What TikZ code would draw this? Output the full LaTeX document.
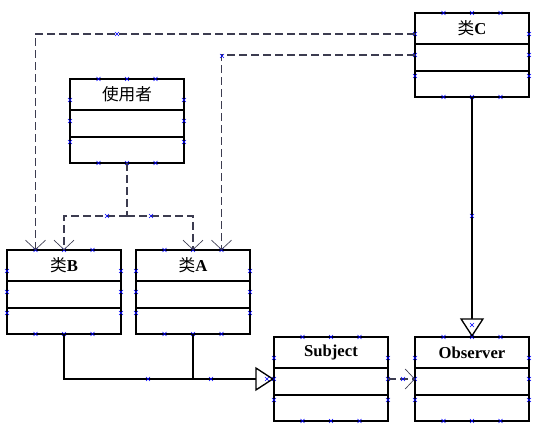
\documentclass[tikz,border=0pt]{standalone}
\usepackage{fontspec}
\setmainfont{Liberation Serif}
\newfontfamily\cjk{Noto Sans CJK SC}
\usetikzlibrary{arrows.meta,calc}

\definecolor{depgray}{RGB}{60,60,80}
\tikzset{
  classbox/.style={draw, line width=1.3pt, minimum width=85.5pt, minimum height=63pt, inner sep=0pt, outer sep=0pt},
  classname/.style={font=\fontsize{12.5}{14}\selectfont\bfseries, inner sep=0pt},
  dep/.style={depgray, dash pattern=on 6pt off 3pt, line width=1.25pt, -{Straight Barb[length=7pt,width=15pt,line width=0.5pt]}},
  gen/.style={line width=0.8pt, -{Triangle[open,length=14pt,width=18pt,line width=1pt,fill=white]}},
  handle/.style={blue, line width=0.5pt},
}

% kleines Auswahlkreuz
\newcommand{\hmark}[1]{\draw[handle] #1 +(-2,-2) -- +(2,2) +(-2,2) -- +(2,-2);}

% Klasse mit drei Feldern: Name, Ecke oben links, Titel
\newcommand{\umlclass}[3]{%
  \node[classbox, anchor=north west] (#1) at (#2) {};
  \draw[line width=1.3pt] ($(#1.north west)+(0,31)$) -- ($(#1.north east)+(0,31)$);
  \draw[line width=1.3pt] ($(#1.north west)+(0,58)$) -- ($(#1.north east)+(0,58)$);
  \node[classname] (#1-name) at ($(#1.north)+(0,15.5)$) {#3};
  \foreach \f in {0.25,0.5,0.75}{
    \hmark{($(#1.north west)!\f!(#1.north east)$)}
    \hmark{($(#1.south west)!\f!(#1.south east)$)}
    \hmark{($(#1.north west)!\f!(#1.south west)$)}
    \hmark{($(#1.north east)!\f!(#1.south east)$)}
  }
}

\begin{document}
\begin{tikzpicture}[x=0.75pt, y=-0.75pt]
    \useasboundingbox (0,0) rectangle (544,434);

    % Klassen
    \umlclass{user}{70,79}{\cjk\mdseries 使用者}
    \umlclass{C}{415,13}{{\cjk\mdseries 类}C}
    \umlclass{B}{7,250}{{\cjk\mdseries 类}B}
    \umlclass{A}{136,250}{{\cjk\mdseries 类}A}
    \umlclass{subject}{274,337}{Subject}
    \umlclass{observer}{415,337}{Observer}

    % Abhaengigkeiten von C
    \draw[dep] ($(C.north west)!0.25!(C.south west)$) -| ($(B.north west)!0.25!(B.north east)$);
    \draw[dep] ($(C.north west)!0.5!(C.south west)$) -| ($(A.north west)!0.75!(A.north east)$);

    % Abhaengigkeiten vom Benutzer
    \draw[dep, -] (user.south) -- ++(0,53) coordinate (uj);
    \draw[dep] (uj) -| (B.north);
    \draw[dep] (uj) -| (A.north);

    % Generalisierungen
    \draw[gen] (C.south) -- (observer.north);
    \draw[gen] (B.south) |- (subject.west);
    \draw[line width=0.8pt] (A.south) -- (A.south |- subject.west);

    % Subject -> Observer
    \draw[dep] (subject.east) -- (observer.west);

    % Kreuze auf den Linien
    \hmark{(117,34)}
    \hmark{(222,56)}
    \hmark{(107,216)}
    \hmark{(151,216)}
    \hmark{(472,216)}
    \hmark{(472,325)}
    \hmark{(148,379)}
    \hmark{(211,379)}
    \hmark{(267,379)}
    \hmark{(403,379)}
\end{tikzpicture}
\end{document}
